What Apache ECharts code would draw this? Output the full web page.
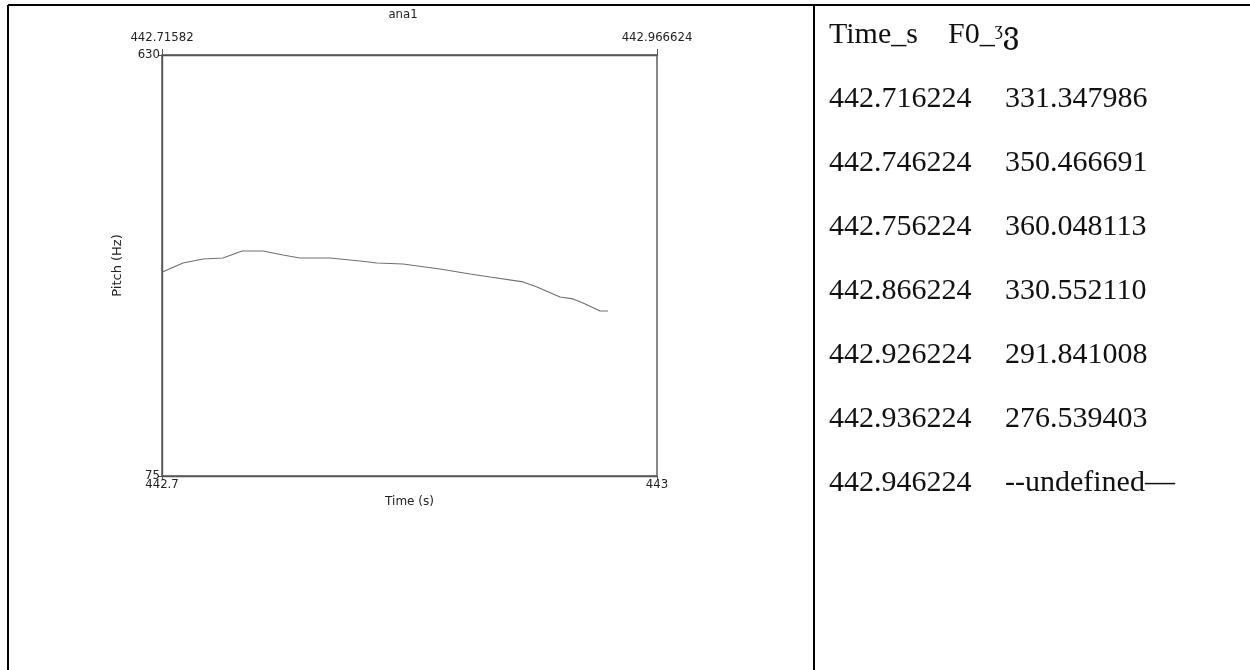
<!DOCTYPE html>
<html>
<head>
<meta charset="utf-8">
<script src="https://cdn.jsdelivr.net/npm/echarts@6/dist/echarts.min.js"></script>
<style>
  html, body { margin: 0; padding: 0; background: #ffffff; }
  #c { width: 1250px; height: 670px; }
</style>
</head>
<body>
<div id="c"></div>
<script>
// Pitch track (seconds, Hz)
const times = [442.7006, 442.7127, 442.7248, 442.7370, 442.7485, 442.7612, 442.7733, 442.7836,
               442.8018, 442.8200, 442.8303, 442.8461, 442.8685, 442.8867, 442.8988, 442.9188,
               442.9273, 442.9412, 442.9491, 442.9552, 442.9655, 442.9703];
const pitchHz = [344.3, 355.8, 361.1, 362.4, 371.6, 371.6, 366.3, 362.4,
                 362.4, 358.4, 355.8, 354.5, 347.9, 341.3, 337.3, 330.8,
                 324.2, 311.0, 308.4, 303.1, 292.5, 292.5];

// Axis marks
const xTicks = [442.7, 443];
const yTicks = [75, 630];
const selectionTicks = [442.71582, 442.966624];

// Listing beside the plot
const tableHeader = ['Time_s', 'F0_ᶾვ'];
const tableTimes = ['442.716224', '442.746224', '442.756224', '442.866224', '442.926224', '442.936224', '442.946224'];
const tableF0 = ['331.347986', '350.466691', '360.048113', '330.552110', '291.841008', '276.539403', '--undefined—'];

const chart = echarts.init(document.getElementById('c'), null, { renderer: 'canvas' });

const narrow = '"Liberation Sans Narrow", "DejaVu Sans Condensed", sans-serif';
const axisFont = { fontFamily: narrow, fontSize: 13, color: '#222' };
const frameLine = { show: true, lineStyle: { color: '#555', width: 1.4 } };

// Table frame and text
const graphics = [
  { type: 'line', shape: { x1: 8, y1: 5, x2: 1250, y2: 5 }, style: { stroke: '#000', lineWidth: 2 } },
  { type: 'line', shape: { x1: 8, y1: 5, x2: 8, y2: 670 }, style: { stroke: '#000', lineWidth: 2 } },
  { type: 'line', shape: { x1: 814, y1: 5, x2: 814, y2: 670 }, style: { stroke: '#000', lineWidth: 2 } },
  { type: 'text', x: 403, y: 15, style: { text: 'ana1', textAlign: 'center', textVerticalAlign: 'middle',
      font: '13px ' + narrow, fill: '#222' } }
];
const serif = '30px "Liberation Serif", "DejaVu Serif", serif';
const rowTop = 35, rowStep = 64, col1 = 829, col2 = 1005;
graphics.push({ type: 'text', x: col1, y: rowTop, style: { text: tableHeader[0], font: serif, fill: '#111', textVerticalAlign: 'middle' } });
graphics.push({ type: 'text', x: 948, y: rowTop, style: { text: tableHeader[1], font: serif, fill: '#111', textVerticalAlign: 'middle' } });
tableTimes.forEach((t, i) => {
  const y = rowTop + rowStep * (i + 1);
  graphics.push({ type: 'text', x: col1, y, style: { text: t, font: serif, fill: '#111', textVerticalAlign: 'middle' } });
  graphics.push({ type: 'text', x: col2, y, style: { text: tableF0[i], font: serif, fill: '#111', textVerticalAlign: 'middle' } });
});

chart.setOption({
  animation: false,
  backgroundColor: '#ffffff',
  grid: { left: 162, top: 55, width: 495, height: 421, show: true, borderColor: '#555', borderWidth: 1.4 },
  xAxis: [
    {
      type: 'value', position: 'bottom', min: 442.7, max: 443,
      name: 'Time (s)', nameLocation: 'middle', nameGap: 16,
      nameTextStyle: { fontFamily: 'DejaVu Sans', fontSize: 12, color: '#222' },
      axisLine: frameLine,
      axisTick: { show: true, customValues: xTicks, length: 4, lineStyle: { color: '#555' } },
      axisLabel: { customValues: xTicks, formatter: v => String(v), margin: 2, ...axisFont },
      splitLine: { show: false }
    },
    {
      type: 'value', position: 'top', min: selectionTicks[0], max: selectionTicks[1],
      axisLine: frameLine,
      axisTick: { show: true, customValues: selectionTicks, length: 6, lineStyle: { color: '#555' } },
      axisLabel: { customValues: selectionTicks, formatter: v => String(v), margin: 11, ...axisFont },
      splitLine: { show: false }
    }
  ],
  yAxis: {
    type: 'value', min: 75, max: 630,
    name: 'Pitch (Hz)', nameLocation: 'middle', nameGap: 38, nameRotate: 90,
    nameTextStyle: { fontFamily: 'DejaVu Sans', fontSize: 13, color: '#222' },
    axisLine: frameLine,
    axisTick: { show: true, customValues: yTicks, length: 4, lineStyle: { color: '#555' } },
    axisLabel: { customValues: yTicks, margin: 2, ...axisFont },
    splitLine: { show: false }
  },
  series: [{
    type: 'line', xAxisIndex: 0, yAxisIndex: 0,
    data: times.map((t, i) => [t, pitchHz[i]]),
    showSymbol: false, smooth: false,
    lineStyle: { color: '#707070', width: 1.2 }
  }],
  graphic: graphics
});
</script>
</body>
</html>
